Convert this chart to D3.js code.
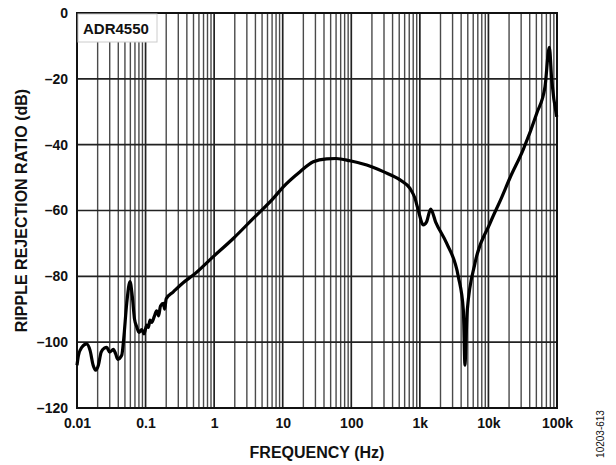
<!DOCTYPE html>
<html>
<head>
<meta charset="utf-8">
<script src="https://cdn.jsdelivr.net/npm/d3@7"></script>
<style>
  body { margin: 0; background: #fff; }
  svg text { font-family: "Liberation Sans", Arial, sans-serif; font-weight: bold; fill: #111; }
</style>
</head>
<body>
<div id="chart"></div>
<script>
const width = 616
const height = 465
const margin = { top: 13, right: 59, bottom: 57, left: 77 }

// Data
const freqHz = [
  0.01, 0.0105, 0.0118, 0.0138, 0.0155, 0.0172, 0.0187, 0.0205, 0.0225, 0.025,
  0.0271, 0.030, 0.0339, 0.0365, 0.0393, 0.0449, 0.048, 0.0531, 0.0593, 0.064,
  0.069, 0.0743, 0.08, 0.0879, 0.095, 0.104, 0.11, 0.116, 0.123, 0.135,
  0.145, 0.155, 0.165, 0.182, 0.19, 0.2, 0.254, 0.35, 0.497, 0.972,
  1.9, 3.72, 7.29, 10.2, 17.9, 27.9, 43.7, 60, 95.7, 168,
  293, 514, 718, 849, 950, 1122, 1250, 1439, 1700, 2464,
  3640, 4306, 4553, 4700, 4920, 6370, 10540, 15620, 20500, 32270,
  50560, 66830, 77270, 83800, 99100
]
const rrrDb = [
  -107, -104, -101.5, -100.5, -102.5, -107, -108.5, -107, -103, -101.8,
  -101.6, -103, -102.2, -103.5, -105.2, -104, -99, -88.2, -81.6, -86,
  -93, -95.3, -97, -96.2, -97.5, -94.8, -95.5, -93.3, -94, -92,
  -90.5, -92, -89, -88.2, -90, -86.8, -84.7, -82, -79.6, -74.0,
  -68.5, -62.4, -56.3, -52.8, -48.2, -45.2, -44.3, -44.2, -44.9, -46.2,
  -48.2, -50.7, -53.3, -56.3, -60, -64.4, -63.5, -59.6, -63.5, -70.0,
  -80.1, -90.2, -107, -100, -90.2, -76.0, -63.9, -56.0, -50.2, -41.4,
  -30.5, -22.4, -10.4, -20.4, -31.5
]

const xTickValues = [0.01, 0.1, 1, 10, 100, 1000, 10000, 100000]
const xTickLabels = ["0.01", "0.1", "1", "10", "100", "1k", "10k", "100k"]
const yTickValues = [0, -20, -40, -60, -80, -100, -120]

const svg = d3.select("#chart")
  .append("svg")
    .attr("width", width)
    .attr("height", height)

const x = d3.scaleLog()
  .domain([0.01, 100000])
  .range([margin.left, width - margin.right])

const y = d3.scaleLinear()
  .domain([-120, 0])
  .range([height - margin.bottom, margin.top])

// --- grid ---
// minor vertical lines, 2..9 in each decade
let minorX = []
for (let d = -2; d < 5; d++) {
  for (let m = 2; m <= 9; m++) minorX.push(m * Math.pow(10, d))
}

svg.append("g")
  .selectAll("line")
  .data(minorX)
  .join("line")
    .attr("x1", d => x(d)).attr("x2", d => x(d))
    .attr("y1", y(0)).attr("y2", y(-120))
    .attr("stroke", "#4a4a4a")
    .attr("stroke-width", 1.4)

svg.append("g")
  .selectAll("line")
  .data(xTickValues)
  .join("line")
    .attr("x1", d => x(d)).attr("x2", d => x(d))
    .attr("y1", y(0)).attr("y2", y(-120))
    .attr("stroke", "#222")
    .attr("stroke-width", 1.7)

svg.append("g")
  .selectAll("line")
  .data(yTickValues)
  .join("line")
    .attr("x1", x(0.01)).attr("x2", x(100000))
    .attr("y1", d => y(d)).attr("y2", d => y(d))
    .attr("stroke", "#222")
    .attr("stroke-width", 1.6)

// frame
svg.append("rect")
  .attr("x", x(0.01))
  .attr("y", y(0))
  .attr("width", x(100000) - x(0.01))
  .attr("height", y(-120) - y(0))
  .attr("fill", "none")
  .attr("stroke", "#111")
  .attr("stroke-width", 2)

// --- axes (labels only) ---
const xAxis = svg.append("g")
  .attr("transform", `translate(0, ${y(-120)})`)
  .call(d3.axisBottom(x).tickValues(xTickValues).tickSize(0).tickPadding(10)
    .tickFormat((d, i) => xTickLabels[i]))
xAxis.select(".domain").remove()
xAxis.selectAll("text").style("font-size", "14px")

const yAxis = svg.append("g")
  .attr("transform", `translate(${x(0.01)}, 0)`)
  .call(d3.axisLeft(y).tickValues(yTickValues).tickSize(0).tickPadding(9)
    .tickFormat(d => d < 0 ? "\u2013" + Math.abs(d) : d))
yAxis.select(".domain").remove()
yAxis.selectAll("text").style("font-size", "14px")

// --- curve ---
const line = d3.line()
  .x(d => x(d[0]))
  .y(d => y(d[1]))
  .curve(d3.curveMonotoneX)

svg.append("path")
  .datum(freqHz.map((f, i) => [f, rrrDb[i]]))
  .attr("fill", "none")
  .attr("stroke", "#000")
  .attr("stroke-width", 3.2)
  .attr("stroke-linejoin", "round")
  .attr("d", line)

// legend box
svg.append("rect")
  .attr("x", x(0.01) + 1)
  .attr("y", y(0) + 1)
  .attr("width", 79)
  .attr("height", 28)
  .attr("fill", "#fff")
  .attr("stroke", "#ccc")
svg.append("text")
  .attr("x", x(0.01) + 6)
  .attr("y", y(0) + 21)
  .style("font-size", "15px")
  .text("ADR4550")

// axis titles
svg.append("text")
  .attr("x", (x(0.01) + x(100000)) / 2)
  .attr("y", 458)
  .attr("text-anchor", "middle")
  .style("font-size", "16px")
  .text("FREQUENCY (Hz)")

svg.append("text")
  .attr("transform", `translate(27, ${(y(0) + y(-120)) / 2}) rotate(-90)`)
  .attr("text-anchor", "middle")
  .style("font-size", "16px")
  .text("RIPPLE REJECTION RATIO (dB)")

svg.append("text")
  .attr("transform", "translate(604, 434) rotate(-90)")
  .attr("text-anchor", "middle")
  .style("font-size", "10px")
  .style("font-weight", "normal")
  .text("10203-613")
</script>
</body>
</html>
